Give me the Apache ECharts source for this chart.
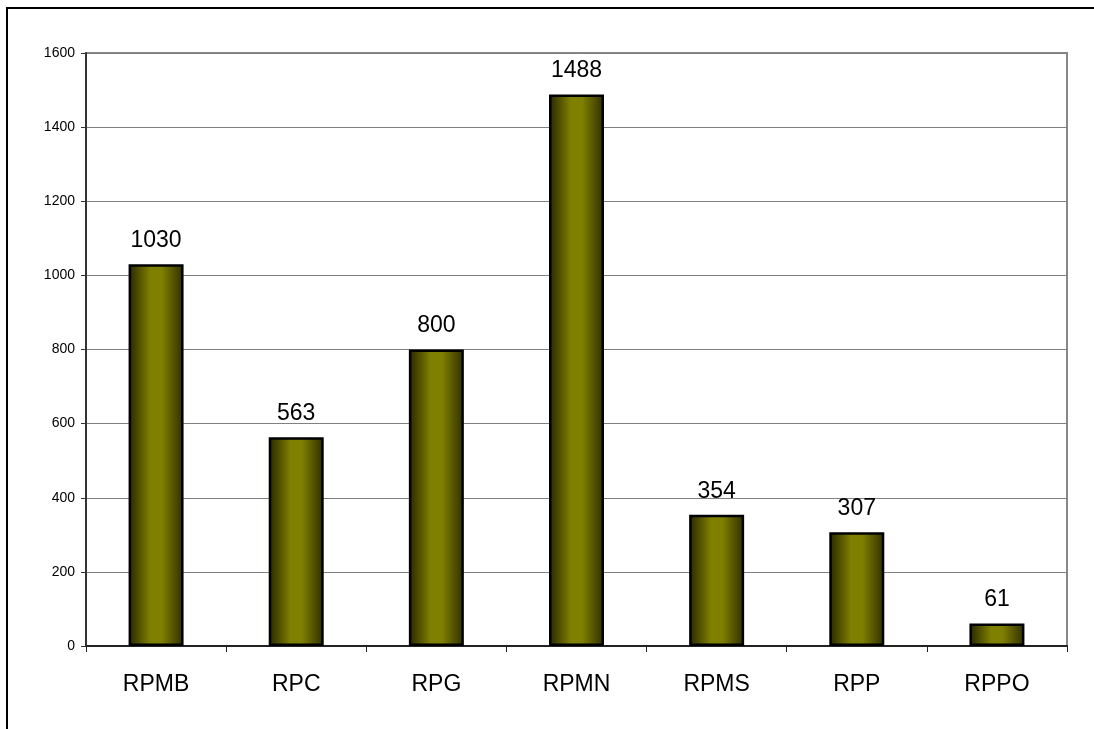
<!DOCTYPE html>
<html>
<head>
<meta charset="utf-8">
<script src="https://cdn.jsdelivr.net/npm/echarts@6/dist/echarts.min.js"></script>
<style>
html,body{margin:0;padding:0;background:#fff;}
#c{width:1094px;height:729px;}
</style>
</head>
<body>
<div id="c"></div>
<script>
var categories = ['RPMB', 'RPC', 'RPG', 'RPMN', 'RPMS', 'RPP', 'RPPO'];
var values = [1030, 563, 800, 1488, 354, 307, 61];
var yTicks = [0, 200, 400, 600, 800, 1000, 1200, 1400, 1600];

var chart = echarts.init(document.getElementById('c'), null, {renderer: 'canvas'});
var FONT = '"Liberation Sans", Arial, sans-serif';
chart.setOption({
  animation: false,
  backgroundColor: '#ffffff',
  graphic: [{
    type: 'rect',
    shape: {x: 7, y: 8, width: 2000, height: 2000},
    style: {fill: 'none', stroke: '#000', lineWidth: 2},
    silent: true,
    z: 100
  }],
  grid: {
    left: 86, right: 27, top: 53, bottom: 83,
    show: true, borderColor: '#888888', borderWidth: 2, backgroundColor: 'transparent'
  },
  xAxis: {
    type: 'category',
    data: categories,
    axisLine: {show: true, lineStyle: {color: '#222', width: 2}},
    axisTick: {show: true, length: 6, inside: false, alignWithLabel: false, lineStyle: {color: '#222'}},
    axisLabel: {color: '#000', fontSize: 23, fontFamily: FONT, margin: 27}
  },
  yAxis: {
    type: 'value',
    min: yTicks[0],
    max: yTicks[yTicks.length - 1],
    interval: 200,
    axisLine: {show: true, lineStyle: {color: '#333', width: 2}},
    axisTick: {show: true, length: 5, lineStyle: {color: '#333'}},
    axisLabel: {color: '#000', fontSize: 14, fontFamily: FONT, margin: 11, formatter: function (v) { return String(v); }},
    splitLine: {show: true, lineStyle: {color: '#808080', width: 1}}
  },
  series: [{
    type: 'bar',
    data: values,
    barWidth: 55,
    itemStyle: {
      borderColor: '#000',
      borderWidth: 2.5,
      color: {
        type: 'linear', x: 0, y: 0, x2: 1, y2: 0,
        colorStops: [
          {offset: 0, color: '#262600'},
          {offset: 0.4, color: '#808000'},
          {offset: 0.6, color: '#808000'},
          {offset: 1, color: '#2e2e00'}
        ]
      }
    },
    label: {
      show: true, position: 'top', distance: 12,
      color: '#000', fontSize: 23, fontFamily: FONT
    }
  }]
});
</script>
</body>
</html>
